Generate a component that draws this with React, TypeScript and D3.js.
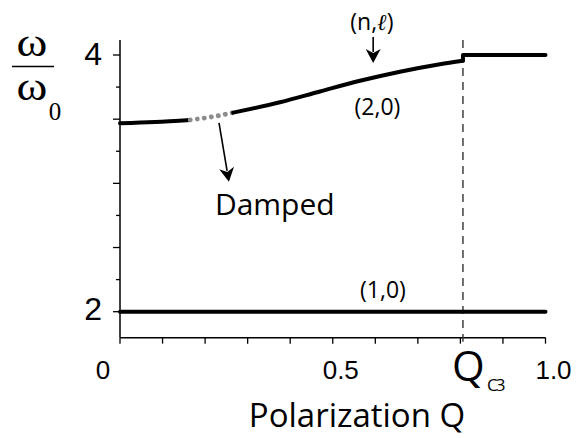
import React from "react";
import * as d3 from "d3";

// (2,0) mode: polarization Q vs frequency ratio
const modeQ = [0, 0.082, 0.165, 0.216, 0.266, 0.376, 0.47, 0.564, 0.658, 0.752, 0.806];
const modeOmega = [3.468, 3.478, 3.494, 3.518, 3.551, 3.632, 3.716, 3.799, 3.87, 3.928, 3.956];
const dampedStart = 0.165;
const dampedEnd = 0.266;
const qc3 = 0.806;
const upperQ = [0.806, 0.806, 1.0];
const upperOmega = [3.956, 4.0, 4.0];
// (1,0) mode
const lowQ = [0, 1.0];
const lowOmega = [2, 2];

const xTicks = [0, 0.1, 0.2, 0.3, 0.4, 0.5, 0.6, 0.7, 0.8, 0.9, 1.0];
const yMajor = [2, 2.5, 3, 3.5, 4];
const yMinor = [2.25, 2.75, 3.25, 3.75];
const xLabels = [
  { v: 0, t: "0" },
  { v: 0.5, t: "0.5" },
  { v: 1.0, t: "1.0" },
];
const yLabels = [
  { v: 4, t: "4" },
  { v: 2, t: "2" },
];

const W = 582;
const H = 438;

function Arrow({ x1, y1, x2, y2 }: { x1: number; y1: number; x2: number; y2: number }) {
  const ang = Math.atan2(y2 - y1, x2 - x1);
  const L = 14;
  const hw = 7.5;
  const bx = x2 - L * Math.cos(ang);
  const by = y2 - L * Math.sin(ang);
  const px = -Math.sin(ang);
  const py = Math.cos(ang);
  const pts = [
    [x2, y2],
    [bx + hw * px, by + hw * py],
    [bx + 4 * Math.cos(ang), by + 4 * Math.sin(ang)],
    [bx - hw * px, by - hw * py],
  ];
  return (
    <g>
      <line x1={x1} y1={y1} x2={bx + 3 * Math.cos(ang)} y2={by + 3 * Math.sin(ang)} stroke="#000" strokeWidth={1.6} />
      <polygon points={pts.map((p) => p.join(",")).join(" ")} fill="#000" />
    </g>
  );
}

export default function App() {
  const x = d3.scaleLinear().domain([0, 1]).range([120, 545.5]);
  const y = d3.scaleLinear().domain([2, 4]).range([311.7, 55]);
  const axisY = y(1.798);
  const axisTop = y(4.117);

  const pts = modeQ.map((q, i) => [q, modeOmega[i]] as [number, number]);
  const curve = d3
    .line<[number, number]>()
    .x((d) => x(d[0]))
    .y((d) => y(d[1]))
    .curve(d3.curveMonotoneX);
  const lin = d3
    .line<[number, number]>()
    .x((d) => x(d[0]))
    .y((d) => y(d[1]));

  const seg1 = pts.filter((p) => p[0] <= dampedStart);
  const segD = pts.filter((p) => p[0] >= dampedStart && p[0] <= dampedEnd);
  const seg2 = pts.filter((p) => p[0] >= dampedEnd);
  const upper = upperQ.map((q, i) => [q, upperOmega[i]] as [number, number]);
  const low = lowQ.map((q, i) => [q, lowOmega[i]] as [number, number]);

  const sans = "'Open Sans', 'Noto Sans', sans-serif";
  const num = "'Liberation Sans', Arial, sans-serif";
  const serif = "'Liberation Serif', 'DejaVu Serif', serif";

  return (
    <svg
      width={W}
      height={H}
      style={{ position: "absolute", left: 0, top: 0, background: "#fff" }}
    >
      <rect width={W} height={H} fill="#fff" />
      {/* axes */}
      <line x1={x(0)} y1={axisTop} x2={x(0)} y2={axisY} stroke="#000" strokeWidth={1.5} />
      <line x1={x(0)} y1={axisY} x2={x(1)} y2={axisY} stroke="#000" strokeWidth={1.5} />
      {xTicks.map((t) => (
        <line key={"xt" + t} x1={x(t)} x2={x(t)} y1={axisY} y2={axisY + 6} stroke="#000" strokeWidth={1.3} />
      ))}
      {yMajor.map((t) => (
        <line key={"ym" + t} x1={x(0) - 7} x2={x(0)} y1={y(t)} y2={y(t)} stroke="#000" strokeWidth={1.3} />
      ))}
      {yMinor.map((t) => (
        <line key={"yn" + t} x1={x(0) - 4} x2={x(0)} y1={y(t)} y2={y(t)} stroke="#000" strokeWidth={1.3} />
      ))}
      {/* Qc3 dashed */}
      <line
        x1={x(qc3)}
        x2={x(qc3)}
        y1={axisTop}
        y2={axisY + 4}
        stroke="#333"
        strokeWidth={1.4}
        strokeDasharray="8,6"
      />
      {/* curves */}
      <path d={lin(low) || ""} fill="none" stroke="#000" strokeWidth={4} strokeLinecap="round" />
      <path d={curve(seg1) || ""} fill="none" stroke="#000" strokeWidth={4} strokeLinecap="round" />
      <path
        d={curve(segD) || ""}
        fill="none"
        stroke="#8c8c8c"
        strokeWidth={4.8}
        strokeLinecap="round"
        strokeDasharray="0.1,7"
      />
      <path d={curve(seg2) || ""} fill="none" stroke="#000" strokeWidth={4} strokeLinecap="round" />
      <path d={lin(upper) || ""} fill="none" stroke="#000" strokeWidth={4} strokeLinecap="round" strokeLinejoin="round" />

      {/* tick labels */}
      {xLabels.map((l) => (
        <text
          key={"xl" + l.t}
          x={x(l.v) + (l.v === 0 ? -17 : 8)}
          y={379}
          fontFamily={num}
          fontSize={26}
          textAnchor="middle"
        >
          {l.t}
        </text>
      ))}
      {yLabels.map((l) => (
        <text key={"yl" + l.t} x={102} y={y(l.v) + 7 + (l.v === 4 ? 3 : 1)} fontFamily={num} fontSize={32} textAnchor="end">
          {l.t}
        </text>
      ))}
      <text x={x(qc3) - 11} y={381} fontFamily={sans} fontSize={42}>
        Q
      </text>
      <text x={x(qc3) + 24} y={391} fontFamily={sans} fontSize={17} letterSpacing={-2}>
        C3
      </text>

      {/* axis titles */}
      <text x={357} y={427} fontFamily={sans} fontSize={33} textAnchor="middle">
        Polarization Q
      </text>
      <g transform="translate(32,0) scale(1.2,1)">
        <text x={0} y={56} fontFamily={serif} fontSize={39} textAnchor="middle">
          ω
        </text>
        <text x={0} y={100} fontFamily={serif} fontSize={39} textAnchor="middle">
          ω
        </text>
      </g>
      <text x={55} y={120} fontFamily={serif} fontSize={25} textAnchor="middle">
        0
      </text>
      <line x1={12} x2={54} y1={66.5} y2={66.5} stroke="#000" strokeWidth={1.6} />

      {/* annotations */}
      <text x={x(0.618)} y={y(2) - 14} fontFamily={sans} fontSize={23} textAnchor="middle">
        (1,0)
      </text>
      <text x={x(0.605)} y={y(3.53)} fontFamily={sans} fontSize={23} textAnchor="middle">
        (2,0)
      </text>
      <text x={x(0.592)} y={30} fontFamily={sans} fontSize={23} textAnchor="middle">
        (n,<tspan fontFamily={serif} fontStyle="italic">ℓ</tspan>)
      </text>
      <Arrow x1={x(0.595)} y1={y(4.14)} x2={x(0.595)} y2={y(3.938)} />
      <Arrow x1={x(0.2327)} y1={y(3.471)} x2={x(0.256)} y2={y(3.012)} />
      <text x={x(0.223)} y={y(2.755)} fontFamily={sans} fontSize={30}>
        Damped
      </text>
    </svg>
  );
}
